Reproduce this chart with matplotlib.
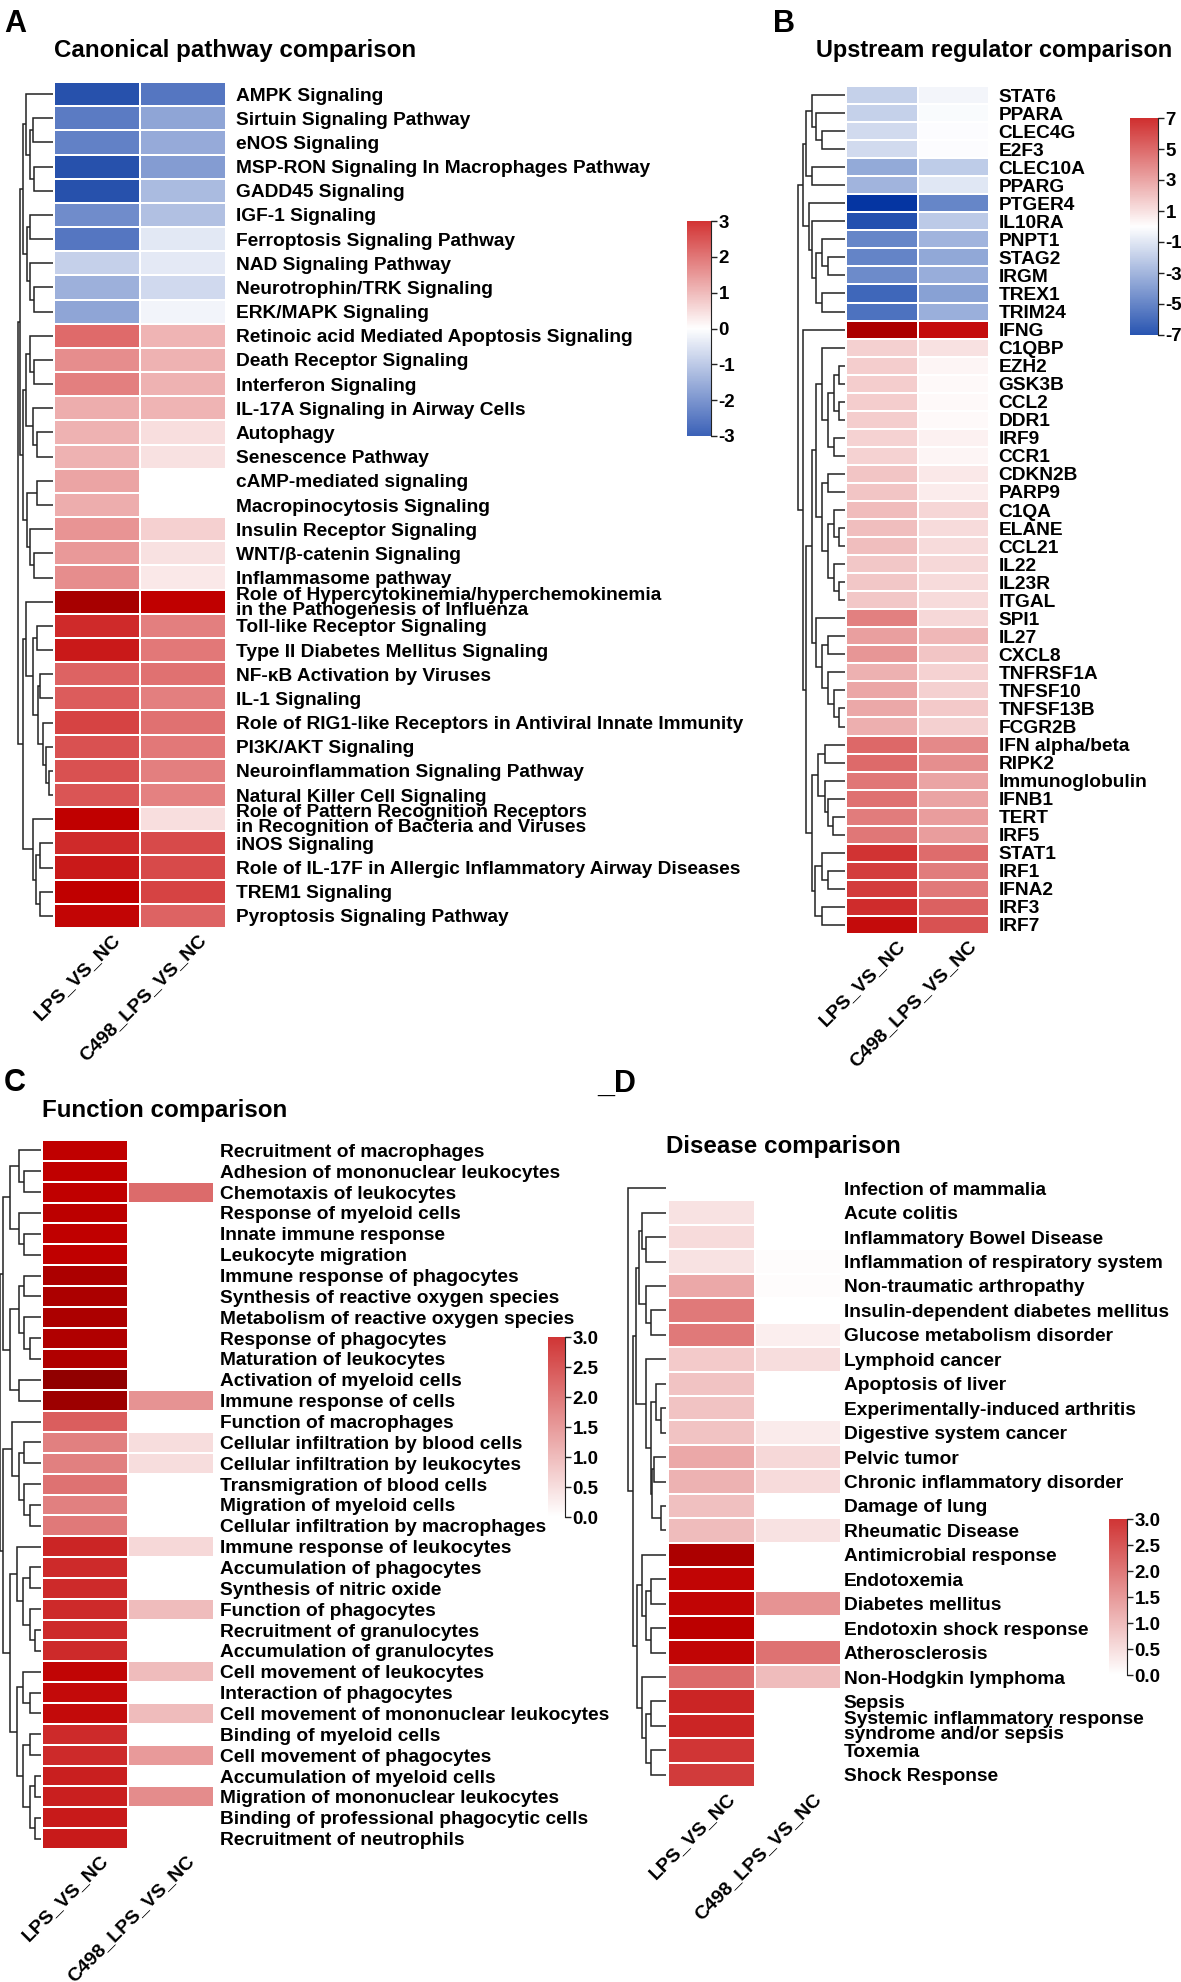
import numpy as np
import matplotlib
matplotlib.use("Agg")
import matplotlib.pyplot as plt
from matplotlib.colors import LinearSegmentedColormap, Normalize
from matplotlib.transforms import ScaledTranslation

plt.rcParams['font.family'] = ['Liberation Sans', 'DejaVu Sans']
plt.rcParams['font.weight'] = 'bold'

# ---------------- DATA ----------------
cols = ["LPS_VS_NC", "C498_LPS_VS_NC"]

A_labels = ["AMPK Signaling", "Sirtuin Signaling Pathway", "eNOS Signaling",
            "MSP-RON Signaling In Macrophages Pathway", "GADD45 Signaling", "IGF-1 Signaling",
            "Ferroptosis Signaling Pathway", "NAD Signaling Pathway", "Neurotrophin/TRK Signaling",
            "ERK/MAPK Signaling", "Retinoic acid Mediated Apoptosis Signaling",
            "Death Receptor Signaling", "Interferon Signaling", "IL-17A Signaling in Airway Cells",
            "Autophagy", "Senescence Pathway", "cAMP-mediated signaling",
            "Macropinocytosis Signaling", "Insulin Receptor Signaling", "WNT/β-catenin Signaling",
            "Inflammasome pathway",
            "Role of Hypercytokinemia/hyperchemokinemia\nin the Pathogenesis of Influenza",
            "Toll-like Receptor Signaling", "Type II Diabetes Mellitus Signaling",
            "NF-κB Activation by Viruses", "IL-1 Signaling",
            "Role of RIG1-like Receptors in Antiviral Innate Immunity", "PI3K/AKT Signaling",
            "Neuroinflammation Signaling Pathway", "Natural Killer Cell Signaling",
            "Role of Pattern Recognition Receptors\nin Recognition of Bacteria and Viruses",
            "iNOS Signaling", "Role of IL-17F in Allergic Inflammatory Airway Diseases",
            "TREM1 Signaling", "Pyroptosis Signaling Pathway"]
A_lps = [-3.6, -2.5, -2.4, -3.6, -3.6, -2.2, -2.6, -0.9, -1.5, -1.7,
         2.2, 1.7, 1.9, 1.2, 1.15, 1.15, 1.35, 1.2, 1.6, 1.5, 1.7,
         4.6, 3.2, 3.5, 2.3, 2.4, 2.8, 2.6, 2.6, 2.5, 4.0, 3.2, 3.5, 4.0, 3.9]
A_c498 = [-2.6, -1.7, -1.6, -1.9, -1.3, -1.2, -0.45, -0.4, -0.7, -0.2,
          1.1, 1.15, 1.15, 1.1, 0.5, 0.45, 0.0, 0.0, 0.7, 0.45, 0.35,
          4.0, 1.9, 2.0, 2.1, 1.9, 2.1, 2.0, 1.9, 1.85, 0.5, 2.7, 2.7, 2.8, 2.3]

B_labels = ["STAT6", "PPARA", "CLEC4G", "E2F3", "CLEC10A", "PPARG", "PTGER4", "IL10RA",
            "PNPT1", "STAG2", "IRGM", "TREX1", "TRIM24", "IFNG", "C1QBP", "EZH2", "GSK3B",
            "CCL2", "DDR1", "IRF9", "CCR1", "CDKN2B", "PARP9", "C1QA", "ELANE", "CCL21",
            "IL22", "IL23R", "ITGAL", "SPI1", "IL27", "CXCL8", "TNFRSF1A", "TNFSF10",
            "TNFSF13B", "FCGR2B", "IFN alpha/beta", "RIPK2", "Immunoglobulin", "IFNB1",
            "TERT", "IRF5", "STAT1", "IRF1", "IFNA2", "IRF3", "IRF7"]
B_lps = [-1.9, -1.9, -1.5, -1.5, -3.5, -3.1, -9.2, -7.4, -5.0, -5.1, -4.8, -6.3, -5.8,
         9.0, 1.6, 1.7, 1.7, 1.7, 1.7, 1.5, 1.5, 2.0, 2.0, 2.3, 2.2, 2.2, 1.9, 1.9, 1.9,
         4.3, 3.2, 3.5, 2.6, 3.0, 2.9, 2.7, 5.1, 5.0, 4.6, 4.8, 4.4, 4.6,
         6.9, 6.5, 6.6, 7.1, 8.0]
B_c498 = [-0.4, -0.15, -0.1, -0.1, -2.1, -1.0, -5.0, -2.2, -3.1, -3.6, -3.4, -3.9, -3.3,
          8.0, 1.0, 0.3, 0.2, 0.2, 0.2, 0.5, 0.3, 0.8, 0.6, 1.4, 1.2, 1.2, 1.3, 1.2, 1.2,
          1.3, 2.4, 2.0, 1.5, 1.6, 1.8, 1.6, 4.0, 3.8, 3.1, 3.1, 3.3, 3.3,
          4.9, 4.4, 4.5, 5.3, 5.8]

C_labels = ["Recruitment of macrophages", "Adhesion of mononuclear leukocytes",
            "Chemotaxis of leukocytes", "Response of myeloid cells", "Innate immune response",
            "Leukocyte migration", "Immune response of phagocytes",
            "Synthesis of reactive oxygen species", "Metabolism of reactive oxygen species",
            "Response of phagocytes", "Maturation of leukocytes", "Activation of myeloid cells",
            "Immune response of cells", "Function of macrophages",
            "Cellular infiltration by blood cells", "Cellular infiltration by leukocytes",
            "Transmigration of blood cells", "Migration of myeloid cells",
            "Cellular infiltration by macrophages", "Immune response of leukocytes",
            "Accumulation of phagocytes", "Synthesis of nitric oxide", "Function of phagocytes",
            "Recruitment of granulocytes", "Accumulation of granulocytes",
            "Cell movement of leukocytes", "Interaction of phagocytes",
            "Cell movement of mononuclear leukocytes", "Binding of myeloid cells",
            "Cell movement of phagocytes", "Accumulation of myeloid cells",
            "Migration of mononuclear leukocytes", "Binding of professional phagocytic cells",
            "Recruitment of neutrophils"]
C_lps = [4.0, 4.0, 4.0, 4.1, 4.0, 4.0, 4.5, 4.5, 4.5, 4.4, 4.4, 5.2, 4.9,
         2.4, 1.9, 1.9, 2.1, 1.9, 2.0, 3.3, 3.2, 3.2, 3.2, 3.2, 3.2,
         3.9, 3.8, 3.8, 3.2, 3.2, 3.4, 3.4, 3.5, 3.5]
C_c498 = [0, 0, 2.2, 0, 0, 0, 0, 0, 0, 0, 0, 0, 1.6,
          0, 0.5, 0.5, 0, 0, 0, 0.6, 0, 0, 1.0, 0, 0,
          1.0, 0, 1.0, 0, 1.5, 0, 1.7, 0, 0]

D_labels = ["Infection of mammalia", "Acute colitis", "Inflammatory Bowel Disease",
            "Inflammation of respiratory system", "Non-traumatic arthropathy",
            "Insulin-dependent diabetes mellitus", "Glucose metabolism disorder",
            "Lymphoid cancer", "Apoptosis of liver", "Experimentally-induced arthritis",
            "Digestive system cancer", "Pelvic tumor", "Chronic inflammatory disorder",
            "Damage of lung", "Rheumatic Disease", "Antimicrobial response", "Endotoxemia",
            "Diabetes mellitus", "Endotoxin shock response", "Atherosclerosis",
            "Non-Hodgkin lymphoma", "Sepsis",
            "Systemic inflammatory response\nsyndrome and/or sepsis", "Toxemia",
            "Shock Response"]
D_lps = [0, 0.45, 0.55, 0.45, 1.3, 2.0, 2.0, 0.8, 0.9, 0.9, 0.9, 1.3, 1.15, 0.95, 1.0,
         4.5, 3.9, 3.9, 4.1, 3.9, 2.2, 3.3, 3.3, 3.0, 2.9]
D_c498 = [0, 0, 0, 0.05, 0.05, 0, 0.25, 0.5, 0, 0, 0.3, 0.6, 0.55, 0, 0.45,
          0, 0, 1.6, 0, 2.1, 1.0, 0, 0, 0, 0]

# dendrogram merge trees: (left, right, height); leaves = row index
A_tree = ((((0, ((1, 2, 0.58), (3, 4, 0.53), 0.66), 0.77),
            ((5, 6, 0.66), (7, (8, 9, 0.53), 0.66), 0.75), 0.87),
           (((10, (11, 12, 0.53), 0.66), (13, (14, 15, 0.45), 0.58), 0.77),
            ((16, 17, 0.45), (18, (19, 20, 0.53), 0.66), 0.75), 0.87), 0.95),
          ((21, ((22, 23, 0.45), ((24, 25, 0.36), (26, (27, (28, 29, 0.11), 0.19), 0.28), 0.41), 0.58), 0.77),
           (30, ((31, 32, 0.36), (33, 34, 0.36), 0.49), 0.58), 0.87), 1.0)

B_tree = (((((0, (1, (2, 3, 0.48), 0.61), 0.70), (4, 5, 0.70), 0.83),
            (6, (7, ((8, (9, 10, 0.35), 0.48), (11, 12, 0.48), 0.61), 0.70), 0.78), 0.91)),
          (13, ((((14, (((15, 16, 0.13), (17, 18, 0.13), 0.22), (19, 20, 0.22), 0.35), 0.48),
                  ((21, 22, 0.35), ((23, (24, 25, 0.13), 0.22), (26, (27, 28, 0.13), 0.22), 0.35), 0.48), 0.61),
                 (29, ((30, 31, 0.35), (32, (33, (34, 35, 0.13), 0.22), 0.35), 0.48), 0.61), 0.70),
                (((36, 37, 0.43), (38, (39, (40, 41, 0.26), 0.35), 0.43), 0.57),
                 ((42, (43, 44, 0.35), 0.48), (45, 46, 0.48), 0.65), 0.70), 0.83), 0.91), 1.0)

C_tree = ((((0, (1, 2, 0.42), 0.54), (3, (4, 5, 0.42), 0.54), 0.75),
           (((6, 7, 0.42), (8, (9, 10, 0.25), 0.42), 0.54), (11, 12, 0.54), 0.75), 0.92),
          ((13, ((14, 15, 0.42), (16, (17, 18, 0.25), 0.42), 0.54), 0.71),
           ((19, ((20, 21, 0.27), (22, (23, 24, 0.13), 0.27), 0.43), 0.57),
            ((25, (26, 27, 0.27), 0.43), ((28, 29, 0.27), ((30, 31, 0.13), (32, 33, 0.13), 0.27), 0.43), 0.57),
            0.75), 0.92), 1.0)

D_tree = (0, ((((1, (2, 3, 0.52), 0.64), (4, (5, 6, 0.38), 0.52), 0.70),
               (7, ((8, (9, 10, 0.12), 0.26), ((11, 12, 0.30), (13, 14, 0.12), 0.36), 0.40), 0.52), 0.80),
              ((15, ((16, 17, 0.38), (18, 19, 0.38), 0.52), 0.64),
               (20, ((21, 22, 0.38), (23, 24, 0.38), 0.52), 0.64), 0.76), 0.88), 1.0)

# colour anchors (value, colour)
A_anchors = [(-4.0, '#1a46a5'), (-3.0, '#3c62b8'), (0.0, '#ffffff'), (3.0, '#d33535'),
             (4.0, '#c00000'), (4.8, '#a00000')]
B_anchors = [(-9.5, '#0030a0'), (-7.0, '#2a56b2'), (0.0, '#ffffff'), (7.0, '#d03030'),
             (8.3, '#c00000'), (9.5, '#a00000')]
CD_anchors = [(0.0, '#ffffff'), (3.0, '#d03535'), (4.0, '#c00000'), (5.3, '#8e0000')]

# ---------------- FIGURE ----------------
W, H = 1181, 1982
fig = plt.figure(figsize=(W / 100, H / 100), dpi=100)
LINE = '#222222'
LAB_FS = 13.8
TITLE_FS = 17.4
COL_FS = 14
CB_FS = 13.5


def px_axes(x0, y0, x1, y1):
    return fig.add_axes([x0 / W, 1 - y1 / H, (x1 - x0) / W, (y1 - y0) / H])


def make_cmap(anchors):
    lo, hi = anchors[0][0], anchors[-1][0]
    cl = [((v - lo) / (hi - lo), c) for v, c in anchors]
    return LinearSegmentedColormap.from_list('m', cl), Normalize(lo, hi)


def draw_tree(ax, node):
    if isinstance(node, int):
        return node + 0.5, 0.0
    l, r, h = node
    yl, hl = draw_tree(ax, l)
    yr, hr = draw_tree(ax, r)
    ax.plot([hl, h, h, hr], [yl, yl, yr, yr], color=LINE, lw=1.1,
            solid_joinstyle='miter', solid_capstyle='butt')
    return (yl + yr) / 2, h


def panel(labels, v1, v2, tree, anchors, heat, dendro, hmax, lab_pad,
          cbar, cb_ticks, cb_labels):
    n = len(labels)
    cmap, norm = make_cmap(anchors)
    data = np.column_stack([v1, v2])
    ax = px_axes(*heat)
    ax.pcolormesh(np.arange(3), np.arange(n + 1), data, cmap=cmap, norm=norm,
                  edgecolors='white', linewidth=1.3)
    ax.set_xlim(0, 2)
    ax.set_ylim(n, 0)
    for s in ax.spines.values():
        s.set_visible(False)
    ax.set_xticks([])
    ax.yaxis.tick_right()
    ax.set_yticks(np.arange(n) + 0.5)
    ax.set_yticklabels(labels, fontsize=LAB_FS, fontweight='bold')
    ax.tick_params(axis='y', length=0, pad=lab_pad)
    for t in ax.get_yticklabels():
        t.set_linespacing(0.85)
    for j, c in enumerate(cols):
        off = ScaledTranslation(0.15, -0.03, fig.dpi_scale_trans)
        ax.text(j + 0.5, n, c, transform=ax.transData + off, rotation=45,
                rotation_mode='anchor', ha='right', va='top', fontsize=COL_FS,
                fontweight='bold')
    # dendrogram
    dax = px_axes(*dendro)
    draw_tree(dax, tree)
    dax.set_ylim(n, 0)
    dax.set_xlim(hmax, -0.01)
    dax.axis('off')
    # colour bar
    cax = px_axes(*cbar)
    lo, hi = cb_ticks[0], cb_ticks[-1]
    grad = np.linspace(lo, hi, 300).reshape(-1, 1)
    cax.imshow(grad, aspect='auto', cmap=cmap, norm=norm, origin='lower',
               extent=[0, 1, lo, hi])
    cax.set_xticks([])
    cax.yaxis.tick_right()
    cax.set_yticks(cb_ticks)
    cax.set_yticklabels(cb_labels, fontsize=CB_FS, fontweight='bold')
    cax.tick_params(axis='y', length=4, width=1, pad=1.5, color=LINE)
    for k, s in cax.spines.items():
        s.set_visible(k == 'right')
    cax.spines['right'].set_color(LINE)
    cax.set_ylim(lo, hi)
    return ax


# Panel A
panel(A_labels, A_lps, A_c498, A_tree, A_anchors,
      heat=(54, 82, 226, 928), dendro=(17, 82, 53, 928), hmax=1.03, lab_pad=7,
      cbar=(687, 221, 711, 436), cb_ticks=[-3, -2, -1, 0, 1, 2, 3],
      cb_labels=['-3', '-2', '-1', '0', '1', '2', '3'])
fig.text(4 / W, 1 - 24 / H, 'A', fontsize=22, fontweight='bold', va='center', ha='left')
fig.text(54 / W, 1 - 51 / H, 'Canonical pathway comparison', fontsize=TITLE_FS,
         fontweight='bold', va='center', ha='left')

# Panel B
panel(B_labels, B_lps, B_c498, B_tree, B_anchors,
      heat=(846, 86, 989, 934), dendro=(797, 86, 845, 934), hmax=1.03, lab_pad=7,
      cbar=(1130, 118, 1158, 335), cb_ticks=[-7, -5, -3, -1, 1, 3, 5, 7],
      cb_labels=['-7', '-5', '-3', '-1', '1', '3', '5', '7'])
fig.text(773 / W, 1 - 24 / H, 'B', fontsize=22, fontweight='bold', va='center', ha='left')
fig.text(816 / W, 1 - 51 / H, 'Upstream regulator comparison', fontsize=16.9,
         fontweight='bold', va='center', ha='left')

# Panel C
panel(C_labels, C_lps, C_c498, C_tree, CD_anchors,
      heat=(42, 1140, 214, 1849), dendro=(0, 1140, 41, 1849), hmax=1.0, lab_pad=4,
      cbar=(548, 1337, 565, 1517), cb_ticks=[0, 0.5, 1.0, 1.5, 2.0, 2.5, 3.0],
      cb_labels=['0.0', '0.5', '1.0', '1.5', '2.0', '2.5', '3.0'])
fig.text(4 / W, 1 - 1083 / H, 'C', fontsize=22, fontweight='bold', va='center', ha='left')
fig.text(42 / W, 1 - 1111 / H, 'Function comparison', fontsize=TITLE_FS,
         fontweight='bold', va='center', ha='left')

# Panel D
panel(D_labels, D_lps, D_c498, D_tree, CD_anchors,
      heat=(668, 1176, 841, 1787), dendro=(627, 1176, 666, 1787), hmax=1.03, lab_pad=2,
      cbar=(1109, 1519, 1127, 1675), cb_ticks=[0, 0.5, 1.0, 1.5, 2.0, 2.5, 3.0],
      cb_labels=['0.0', '0.5', '1.0', '1.5', '2.0', '2.5', '3.0'])
fig.text(597 / W, 1 - 1084 / H, '_D', fontsize=22, fontweight='bold', va='center', ha='left')
fig.text(666 / W, 1 - 1147 / H, 'Disease comparison', fontsize=TITLE_FS,
         fontweight='bold', va='center', ha='left')

fig.savefig('out.png', dpi=100, facecolor='white')
